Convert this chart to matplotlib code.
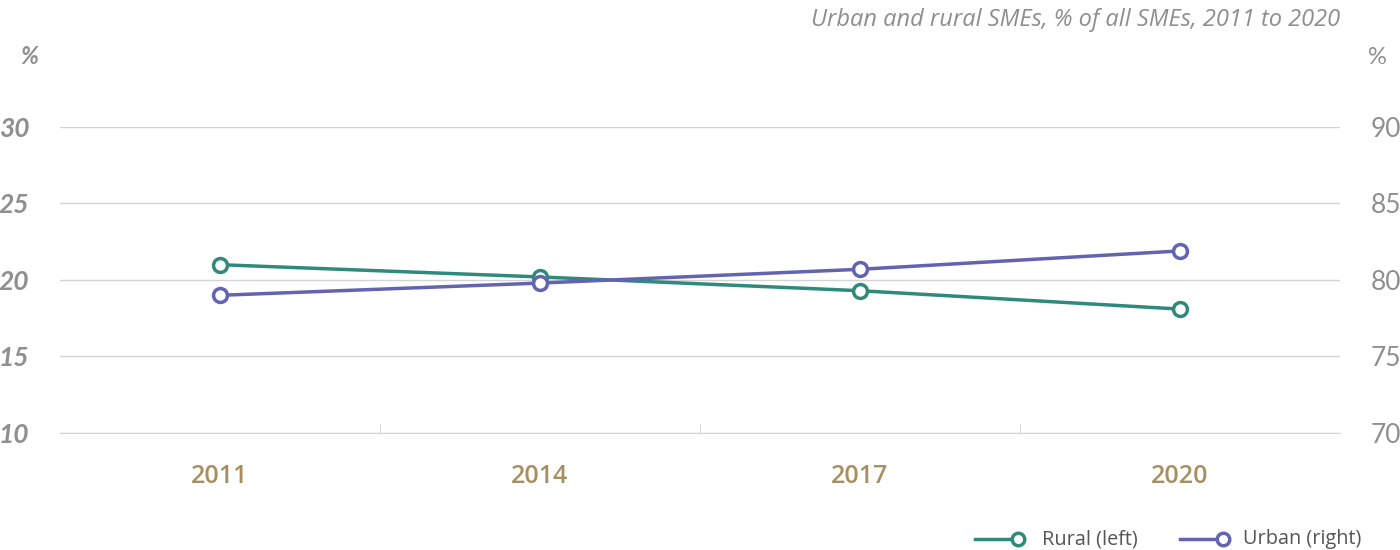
import matplotlib
matplotlib.use("Agg")
import matplotlib.pyplot as plt
from matplotlib.lines import Line2D

# data
years = ["2011", "2014", "2017", "2020"]
rural = [21.0, 20.2, 19.3, 18.1]
urban = [79.0, 79.8, 80.7, 81.9]
left_ticks = [10, 15, 20, 25, 30]
right_ticks = [70, 75, 80, 85, 90]
labels = ["Rural (left)", "Urban (right)"]

teal = "#2f8a7c"
purple = "#6363b1"
grey = "#8f8f8f"
gold = "#a88f5f"
gridc = "#d4d4d4"

fig = plt.figure(figsize=(14, 5.5), dpi=100)
ax = fig.add_axes([60 / 1400, 1 - 433 / 550, 1280 / 1400, 306 / 550])
ax2 = ax.twinx()

x = list(range(len(years)))
ax.plot(x, rural, color=teal, lw=2.5, marker="o", ms=10, mfc="white",
        mec=teal, mew=2.5, zorder=3, clip_on=False)
ax2.plot(x, urban, color=purple, lw=2.5, marker="o", ms=10, mfc="white",
         mec=purple, mew=2.5, zorder=2, clip_on=False)

ax.set_xlim(-0.5, len(years) - 0.5)
ax.set_ylim(10, 30)
ax2.set_ylim(70, 90)
ax.set_yticks(left_ticks)
ax2.set_yticks(right_ticks)
ax.grid(axis="y", color=gridc, lw=1)
ax.set_axisbelow(True)

for a in (ax, ax2):
    for s in a.spines.values():
        s.set_visible(False)
ax.spines["bottom"].set_visible(True)
ax.spines["bottom"].set_color(gridc)

ax.set_xticks(x)
ax.set_xticklabels(years, fontsize=18, color=gold, family="Open Sans", weight="semibold")
ax.set_xticks([0.5, 1.5, 2.5], minor=True)
ax.tick_params(axis="x", which="major", length=0, pad=22)
ax.tick_params(axis="x", which="minor", direction="in", length=7, color=gridc)
ax.tick_params(axis="y", length=0, pad=22)
ax2.tick_params(axis="y", length=0, pad=22)

for t in ax.get_yticklabels():
    t.set_fontfamily("Lato")
    t.set_fontstyle("italic")
    t.set_fontweight("bold")
    t.set_fontsize(19)
    t.set_color(grey)
for t in ax2.get_yticklabels():
    t.set_fontfamily("Lato")
    t.set_fontsize(19)
    t.set_color(grey)

fig.text(38 / 1400, 1 - 57 / 550, "%", ha="right", va="center", fontsize=17,
         color=grey, family="Lato", style="italic", weight="bold")
fig.text(1368 / 1400, 1 - 57 / 550, "%", ha="left", va="center", fontsize=17,
         color=grey, family="Lato")
fig.text(1340 / 1400, 1 - 20 / 550, "Urban and rural SMEs, % of all SMEs, 2011 to 2020",
         ha="right", va="center", fontsize=17, color="#8e8e8e", family="Open Sans",
         style="italic")

# legend: line with marker at its right end
legend_items = [(975, 1042, teal, labels[0]), (1180, 1243, purple, labels[1])]
ly = 1 - 539 / 550
for x0, xt, col, lab in legend_items:
    fig.add_artist(Line2D([x0 / 1400, (x0 + 42) / 1400], [ly, ly], color=col, lw=2.5,
                          transform=fig.transFigure))
    fig.add_artist(Line2D([(x0 + 43) / 1400], [ly], color=col, marker="o", ms=9,
                          mfc="white", mec=col, mew=2.5, transform=fig.transFigure))
    fig.text(xt / 1400, ly, lab, ha="left", va="center", fontsize=14.3,
             color="#555555", family="Open Sans")

fig.savefig("out.png", dpi=100)
